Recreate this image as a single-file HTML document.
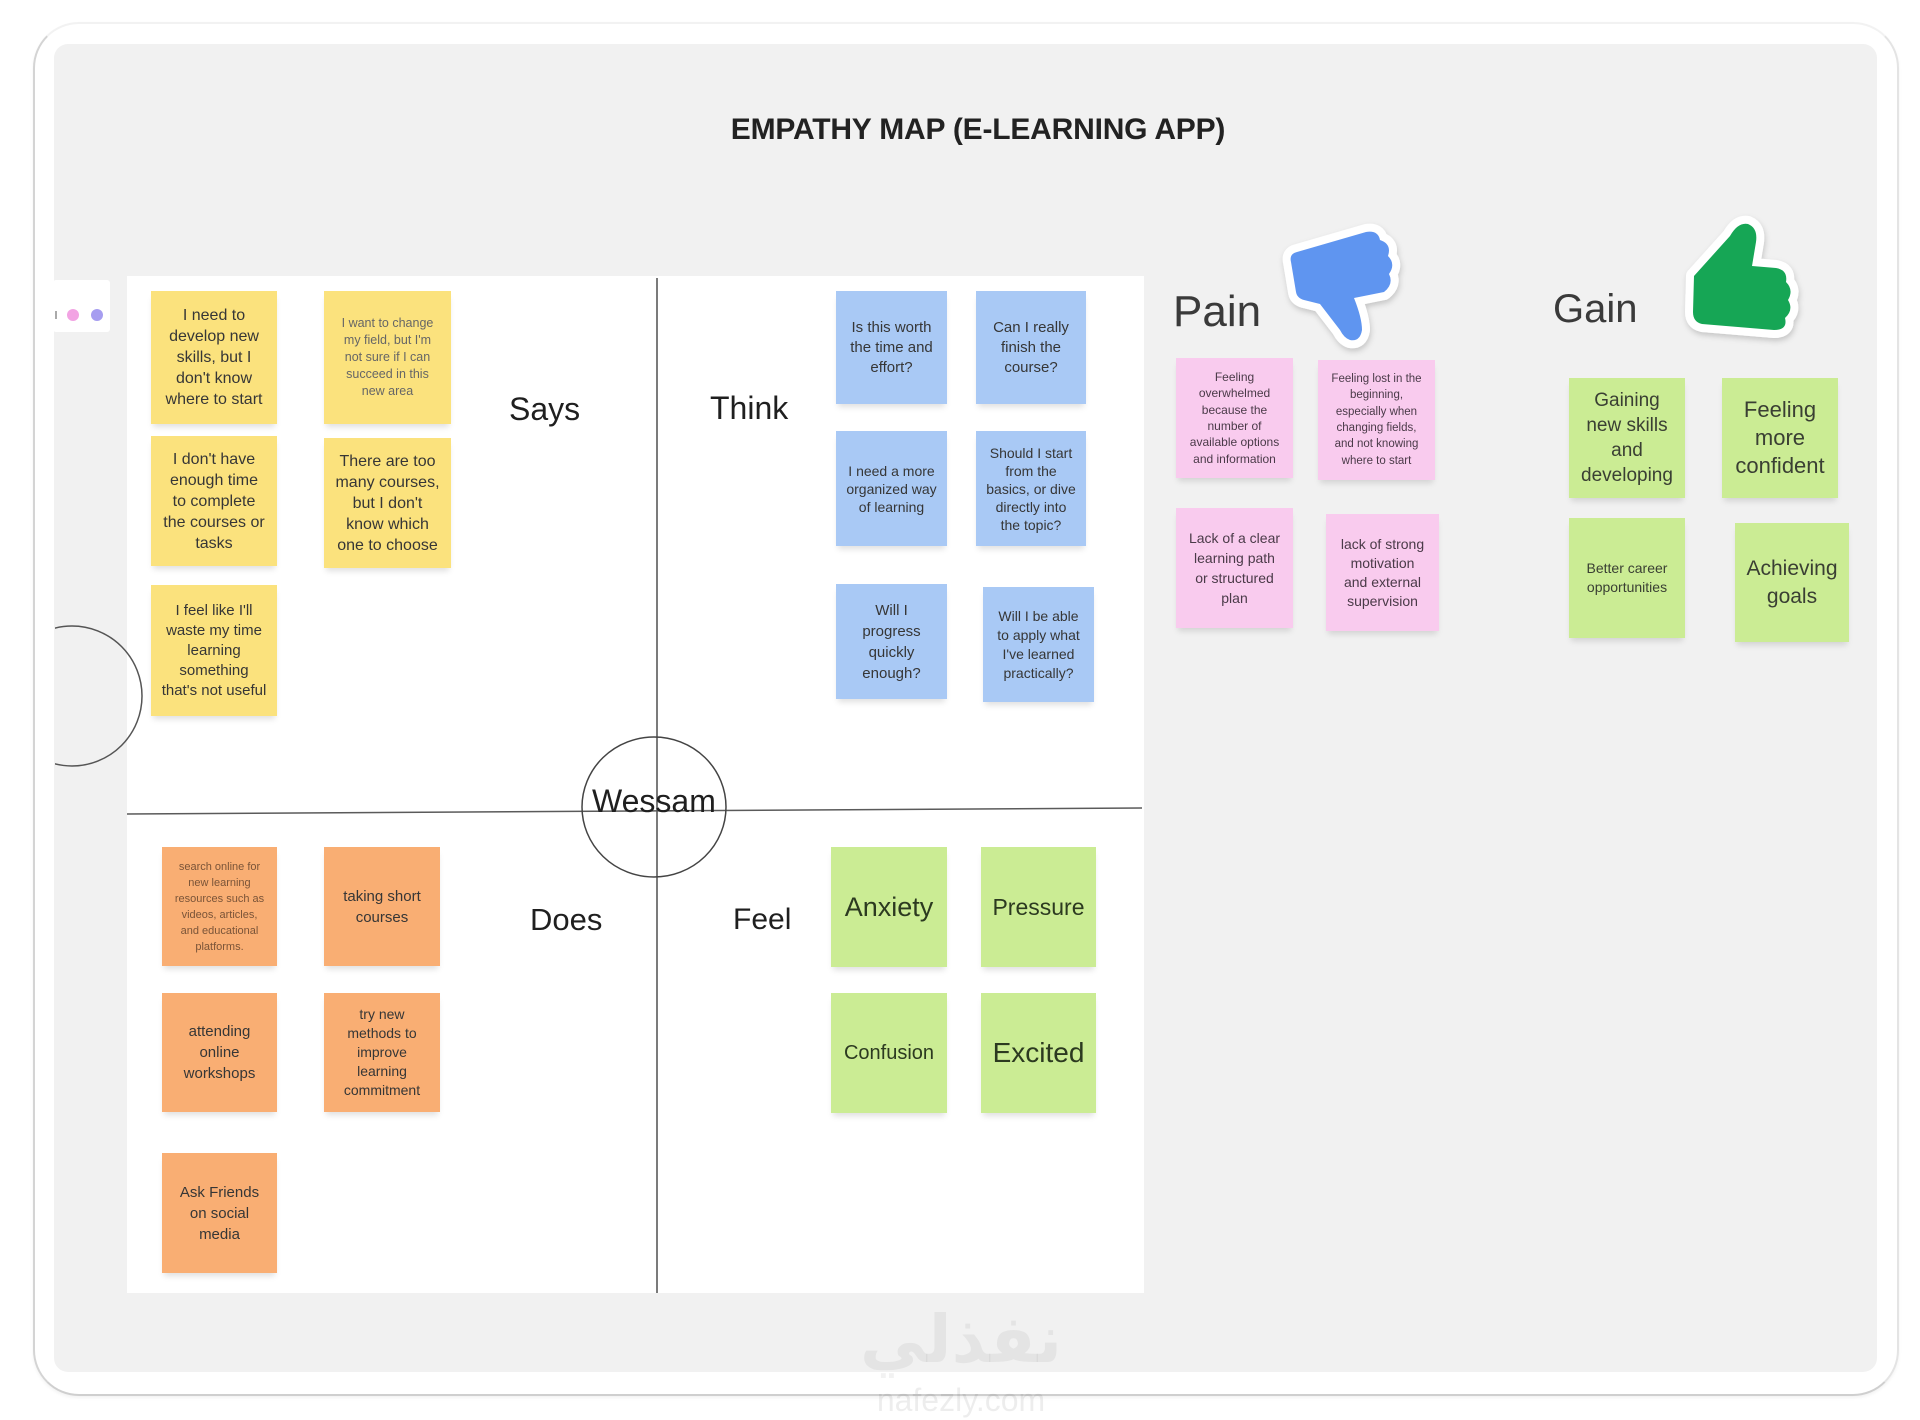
<!DOCTYPE html>
<html>
<head>
<meta charset="utf-8">
<style>
  html,body{margin:0;padding:0;}
  body{width:1920px;height:1420px;position:relative;background:#ffffff;overflow:hidden;font-family:"Liberation Sans",Arial,sans-serif;}
  .frame{position:absolute;left:33px;top:22px;width:1862px;height:1370px;border:2px solid;border-color:#f2f2f2 #e4e4e4 #cfcfcf #d4d4d4;border-radius:46px;background:#fff;box-shadow:0 2px 3px rgba(0,0,0,0.05);}
  .panel{position:absolute;left:54px;top:44px;width:1823px;height:1328px;background:#f1f1f1;border-radius:14px;}
  .board{position:absolute;left:127px;top:276px;width:1017px;height:1017px;background:#ffffff;}
  .tab{position:absolute;left:53px;top:280px;width:57px;height:52px;background:#fff;border-radius:3px;}
  .dot{position:absolute;width:12px;height:12px;border-radius:50%;top:309px;}
  .title{position:absolute;left:578px;width:800px;top:115px;text-align:center;font-weight:bold;font-size:30px;line-height:30px;color:#222;letter-spacing:-0.2px;}
  .lbl{position:absolute;white-space:nowrap;color:#1f1f1f;}
  .n{position:absolute;display:flex;align-items:center;justify-content:center;text-align:center;white-space:nowrap;color:#363636;box-shadow:0 5px 6px -2px rgba(0,0,0,0.13);}
  .y{background:#fbe27d;}
  .b{background:#a9c9f5;}
  .o{background:#f9ae73;}
  .g{background:#cbec94;color:#2c3a20;}
  .p{background:#f9cbee;color:#4a3a48;}
  svg.ov{position:absolute;left:0;top:0;}
</style>
</head>
<body>
<div class="frame"></div>
<div class="panel"></div>
<div class="board"></div>
<div class="tab"></div>
<div style="position:absolute;left:55px;top:311px;width:2px;height:8px;background:#aaa;"></div>
<div class="dot" style="left:67px;background:#f2a3e3;"></div>
<div class="dot" style="left:91px;background:#a69df0;"></div>

<div class="title">EMPATHY MAP (E-LEARNING APP)</div>

<svg class="ov" width="1920" height="1420" viewBox="0 0 1920 1420">
  <defs>
    <clipPath id="lc"><rect x="55" y="600" width="200" height="200"/></clipPath>
    <filter id="sh" x="-20%" y="-20%" width="140%" height="140%">
      <feDropShadow dx="1" dy="3" stdDeviation="3" flood-color="#000" flood-opacity="0.18"/>
    </filter>
  </defs>
  <circle cx="72" cy="696" r="70" fill="none" stroke="#555" stroke-width="1.5" clip-path="url(#lc)"/>
  <line x1="657" y1="278" x2="657" y2="1293" stroke="#5a5a5a" stroke-width="1.6"/>
  <line x1="127" y1="814" x2="1142" y2="808" stroke="#5a5a5a" stroke-width="1.6"/>
  <ellipse cx="654" cy="807" rx="72" ry="70" fill="none" stroke="#444" stroke-width="1.5"/>
  <!-- thumbs down -->
  <path d="M1291,262 Q1289,254 1297,252 L1366,232 Q1378,230 1380,240 Q1392,244 1388,256 Q1396,264 1389,274 Q1394,284 1384,292 L1354,298 Q1362,318 1362,330 Q1360,342 1350,340 Q1344,338 1340,330 L1320,304 L1304,300 Q1297,298 1296,292 Z"
        fill="#5f95f0" stroke="#ffffff" stroke-width="16" stroke-linejoin="round" paint-order="stroke" filter="url(#sh)"/>
  <!-- thumbs up -->
  <path d="M1694,276 L1730,236 Q1738,222 1748,224 Q1758,228 1756,242 L1752,266 L1776,268 Q1788,270 1786,282 Q1794,290 1788,300 Q1794,310 1785,318 Q1788,330 1774,330 L1702,324 Q1693,322 1693,312 Z"
        fill="#14a655" stroke="#ffffff" stroke-width="16" stroke-linejoin="round" paint-order="stroke" filter="url(#sh)"/>
</svg>

<div class="lbl" style="left:509px;top:393px;font-size:32px;line-height:32px;">Says</div>
<div class="lbl" style="left:710px;top:392px;font-size:32px;line-height:32px;">Think</div>
<div class="lbl" style="left:530px;top:904px;font-size:31px;line-height:31px;">Does</div>
<div class="lbl" style="left:733px;top:905px;font-size:30px;line-height:30px;">Feel</div>
<div class="lbl" style="left:592px;top:785px;font-size:32px;line-height:32px;">Wessam</div>
<div class="lbl" style="left:1173px;top:290px;font-size:44px;line-height:44px;color:#3a3a3a;">Pain</div>
<div class="lbl" style="left:1553px;top:289px;font-size:40px;line-height:40px;color:#3a3a3a;">Gain</div>

<!-- Says (yellow) -->
<div class="n y" style="left:151px;top:291px;width:126px;height:133px;font-size:16px;line-height:21px;">I need to<br>develop new<br>skills, but I<br>don't know<br>where to start</div>
<div class="n y" style="left:324px;top:291px;width:127px;height:133px;font-size:12.5px;line-height:17px;color:#666;">I want to change<br>my field, but I'm<br>not sure if I can<br>succeed in this<br>new area</div>
<div class="n y" style="left:151px;top:436px;width:126px;height:130px;font-size:16px;line-height:21px;">I don't have<br>enough time<br>to complete<br>the courses or<br>tasks</div>
<div class="n y" style="left:324px;top:438px;width:127px;height:130px;font-size:16px;line-height:21px;">There are too<br>many courses,<br>but I don't<br>know which<br>one to choose</div>
<div class="n y" style="left:151px;top:585px;width:126px;height:131px;font-size:15px;line-height:20px;">I feel like I'll<br>waste my time<br>learning<br>something<br>that's not useful</div>

<!-- Think (blue) -->
<div class="n b" style="left:836px;top:291px;width:111px;height:113px;font-size:15px;line-height:20px;">Is this worth<br>the time and<br>effort?</div>
<div class="n b" style="left:976px;top:291px;width:110px;height:113px;font-size:15px;line-height:20px;">Can I really<br>finish the<br>course?</div>
<div class="n b" style="left:836px;top:431px;width:111px;height:115px;font-size:14px;line-height:18px;">I need a more<br>organized way<br>of learning</div>
<div class="n b" style="left:976px;top:431px;width:110px;height:115px;font-size:14px;line-height:18px;">Should I start<br>from the<br>basics, or dive<br>directly into<br>the topic?</div>
<div class="n b" style="left:836px;top:584px;width:111px;height:115px;font-size:15px;line-height:21px;">Will I<br>progress<br>quickly<br>enough?</div>
<div class="n b" style="left:983px;top:587px;width:111px;height:115px;font-size:14px;line-height:19px;">Will I be able<br>to apply what<br>I've learned<br>practically?</div>

<!-- Does (orange) -->
<div class="n o" style="left:162px;top:847px;width:115px;height:119px;font-size:11px;line-height:16px;color:#7a5438;">search online for<br>new learning<br>resources such as<br>videos, articles,<br>and educational<br>platforms.</div>
<div class="n o" style="left:324px;top:847px;width:116px;height:119px;font-size:15px;line-height:21px;">taking short<br>courses</div>
<div class="n o" style="left:162px;top:993px;width:115px;height:119px;font-size:15px;line-height:21px;">attending<br>online<br>workshops</div>
<div class="n o" style="left:324px;top:993px;width:116px;height:119px;font-size:14px;line-height:19px;">try new<br>methods to<br>improve<br>learning<br>commitment</div>
<div class="n o" style="left:162px;top:1153px;width:115px;height:120px;font-size:15px;line-height:21px;">Ask Friends<br>on social<br>media</div>

<!-- Feel (green) -->
<div class="n g" style="left:831px;top:847px;width:116px;height:120px;font-size:27px;">Anxiety</div>
<div class="n g" style="left:981px;top:847px;width:115px;height:120px;font-size:23px;">Pressure</div>
<div class="n g" style="left:831px;top:993px;width:116px;height:120px;font-size:20px;">Confusion</div>
<div class="n g" style="left:981px;top:993px;width:115px;height:120px;font-size:28px;">Excited</div>

<!-- Pain (pink) -->
<div class="n p" style="left:1176px;top:358px;width:117px;height:120px;font-size:12px;line-height:16.4px;">Feeling<br>overwhelmed<br>because the<br>number of<br>available options<br>and information</div>
<div class="n p" style="left:1318px;top:360px;width:117px;height:120px;font-size:11.5px;line-height:16.4px;">Feeling lost in the<br>beginning,<br>especially when<br>changing fields,<br>and not knowing<br>where to start</div>
<div class="n p" style="left:1176px;top:508px;width:117px;height:120px;font-size:14px;line-height:20px;">Lack of a clear<br>learning path<br>or structured<br>plan</div>
<div class="n p" style="left:1326px;top:514px;width:113px;height:117px;font-size:14px;line-height:19px;">lack of strong<br>motivation<br>and external<br>supervision</div>

<!-- Gain (green) -->
<div class="n g" style="left:1569px;top:378px;width:116px;height:120px;font-size:19px;line-height:25px;color:#3a3f33;">Gaining<br>new skills<br>and<br>developing</div>
<div class="n g" style="left:1722px;top:378px;width:116px;height:120px;font-size:22px;line-height:28px;color:#3a3f33;">Feeling<br>more<br>confident</div>
<div class="n g" style="left:1569px;top:518px;width:116px;height:120px;font-size:14px;line-height:19px;color:#3a3f33;">Better career<br>opportunities</div>
<div class="n g" style="left:1735px;top:523px;width:114px;height:119px;font-size:21px;line-height:28px;color:#3a3f33;">Achieving<br>goals</div>

<!-- watermark -->
<div class="lbl" style="left:761px;width:400px;text-align:center;top:1300px;font-family:'DejaVu Sans',sans-serif;font-weight:bold;font-size:66px;line-height:80px;color:rgba(0,0,0,0.05);">نفذلي</div>
<div class="lbl" style="left:761px;width:400px;text-align:center;top:1382px;font-size:32px;line-height:36px;color:rgba(0,0,0,0.07);">nafezly.com</div>
</body>
</html>
